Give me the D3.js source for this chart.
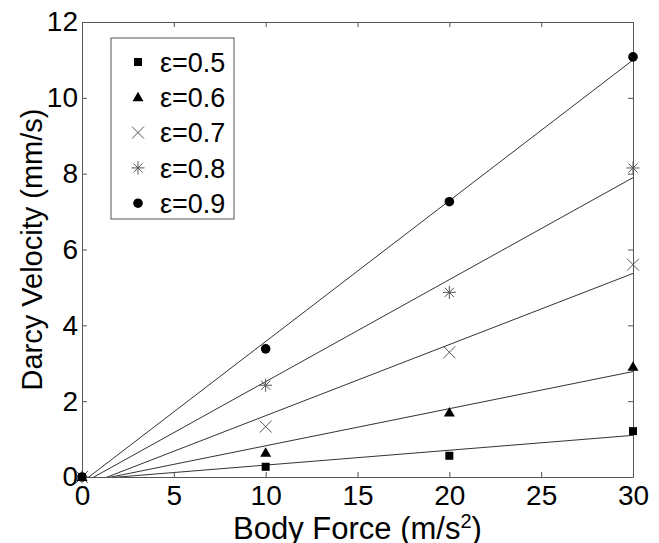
<!DOCTYPE html>
<html>
<head>
<meta charset="utf-8">
<script src="https://cdn.jsdelivr.net/npm/d3@7"></script>
<style>
  body { margin: 0; background: #fff; }
  svg text { font-family: "Liberation Sans", Arial, sans-serif; fill: #000; }
</style>
</head>
<body>
<svg id="chart" width="659" height="543"></svg>
<script>
// data
var bodyForce = [0, 10, 20, 30];
var porosity = ["0.5", "0.6", "0.7", "0.8", "0.9"];
var v05 = [0, 0.27, 0.56, 1.21];
var v06 = [0, 0.64, 1.70, 2.91];
var v07 = [0, 1.33, 3.29, 5.60];
var v08 = [0, 2.42, 4.87, 8.15];
var v09 = [0, 3.38, 7.26, 11.08];
var xTicks = [0, 5, 10, 15, 20, 25, 30];
var yTicks = [0, 2, 4, 6, 8, 10, 12];

var seriesVals = [v05, v06, v07, v08, v09];
var markers = ["square", "triangle", "cross", "star", "circle"];
var markerColor = ["#000", "#000", "#555", "#555", "#000"];

var svg = d3.select("#chart");
var ml = 82, mr = 633, mt = 22, mb = 477;

var x = d3.scaleLinear().domain([0, 30]).range([ml, mr]);
var y = d3.scaleLinear().domain([0, 12]).range([mb, mt]);

svg.append("defs").append("clipPath").attr("id", "clip")
  .append("rect").attr("x", ml).attr("y", mt).attr("width", mr - ml).attr("height", mb - mt);

// least squares fit for each series
function fit(vals) {
  var mx = d3.mean(bodyForce), my = d3.mean(vals);
  var sxy = 0, sxx = 0;
  for (var i = 0; i < vals.length; i++) {
    sxy += (bodyForce[i] - mx) * (vals[i] - my);
    sxx += (bodyForce[i] - mx) * (bodyForce[i] - mx);
  }
  var a = sxy / sxx;
  return { a: a, b: my - a * mx };
}

var lineG = svg.append("g").attr("clip-path", "url(#clip)");
seriesVals.forEach(function (vals) {
  var f = fit(vals);
  lineG.append("line")
    .attr("x1", x(0)).attr("y1", y(f.b))
    .attr("x2", x(30)).attr("y2", y(f.a * 30 + f.b))
    .attr("stroke", "#333").attr("stroke-width", 1);
});

// axes with inward ticks on all four sides
var axisColor = "#555";
var fs = 28;
var xb = svg.append("g").attr("transform", "translate(0," + mb + ")")
  .call(d3.axisBottom(x).tickValues(xTicks).tickSizeInner(-5).tickSizeOuter(0).tickPadding(8));
var xt = svg.append("g").attr("transform", "translate(0," + mt + ")")
  .call(d3.axisTop(x).tickValues(xTicks).tickSizeInner(-5).tickSizeOuter(0).tickFormat(""));
var yl = svg.append("g").attr("transform", "translate(" + ml + ",0)")
  .call(d3.axisLeft(y).tickValues(yTicks).tickSizeInner(-5).tickSizeOuter(0).tickPadding(4));
var yr = svg.append("g").attr("transform", "translate(" + mr + ",0)")
  .call(d3.axisRight(y).tickValues(yTicks).tickSizeInner(-5).tickSizeOuter(0).tickFormat(""));
[xb, xt, yl, yr].forEach(function (g) {
  g.select(".domain").attr("stroke", axisColor);
  g.selectAll(".tick line").attr("stroke", axisColor);
  g.selectAll(".tick text").style("font-size", fs + "px").attr("fill", "#000");
});
xb.selectAll(".tick text").attr("dy", "0.72em");

function drawMarker(g, type, cx, cy, color) {
  if (type === "square") {
    g.append("rect").attr("x", cx - 4).attr("y", cy - 4).attr("width", 8).attr("height", 8).attr("fill", color);
  } else if (type === "triangle") {
    g.append("path").attr("d", "M" + cx + "," + (cy - 5.5) + "L" + (cx + 5.5) + "," + (cy + 4) + "L" + (cx - 5.5) + "," + (cy + 4) + "Z").attr("fill", color);
  } else if (type === "circle") {
    g.append("circle").attr("cx", cx).attr("cy", cy).attr("r", 4.8).attr("fill", color);
  } else if (type === "cross") {
    var s = 6;
    g.append("path").attr("d", "M" + (cx - s) + "," + (cy - s) + "L" + (cx + s) + "," + (cy + s) + "M" + (cx - s) + "," + (cy + s) + "L" + (cx + s) + "," + (cy - s))
      .attr("stroke", color).attr("stroke-width", 1).attr("fill", "none");
  } else if (type === "star") {
    var r = 6.5, d = r * 0.707;
    g.append("path").attr("d",
      "M" + (cx - r) + "," + cy + "L" + (cx + r) + "," + cy +
      "M" + cx + "," + (cy - r) + "L" + cx + "," + (cy + r) +
      "M" + (cx - d) + "," + (cy - d) + "L" + (cx + d) + "," + (cy + d) +
      "M" + (cx - d) + "," + (cy + d) + "L" + (cx + d) + "," + (cy - d))
      .attr("stroke", color).attr("stroke-width", 1).attr("fill", "none");
  }
}

// points, last series first so the squares sit on top
var ptG = svg.append("g");
for (var s = seriesVals.length - 1; s >= 0; s--) {
  seriesVals[s].forEach(function (v, i) {
    drawMarker(ptG, markers[s], x(bodyForce[i]), y(v), markerColor[s]);
  });
}

// legend
var lg = svg.append("g");
lg.append("rect").attr("x", 111).attr("y", 38).attr("width", 123).attr("height", 181)
  .attr("fill", "#fff").attr("stroke", axisColor).attr("stroke-width", 1);
porosity.forEach(function (p, i) {
  var ry = 62 + i * 35.3;
  drawMarker(lg, markers[i], 138, ry, markerColor[i]);
  lg.append("text").attr("x", 160).attr("y", ry).attr("dy", "0.36em")
    .style("font-size", "27px").text("ε=" + p);
});

// axis titles
svg.append("text").attr("x", (ml + mr) / 2).attr("y", 539)
  .attr("text-anchor", "middle").style("font-size", "31px")
  .html('Body Force (m/s<tspan baseline-shift="super" font-size="20px">2</tspan>)');
svg.append("text").attr("transform", "translate(42," + ((mt + mb) / 2) + ") rotate(-90)")
  .attr("text-anchor", "middle").style("font-size", "29px")
  .text("Darcy Velocity (mm/s)");
</script>
</body>
</html>
